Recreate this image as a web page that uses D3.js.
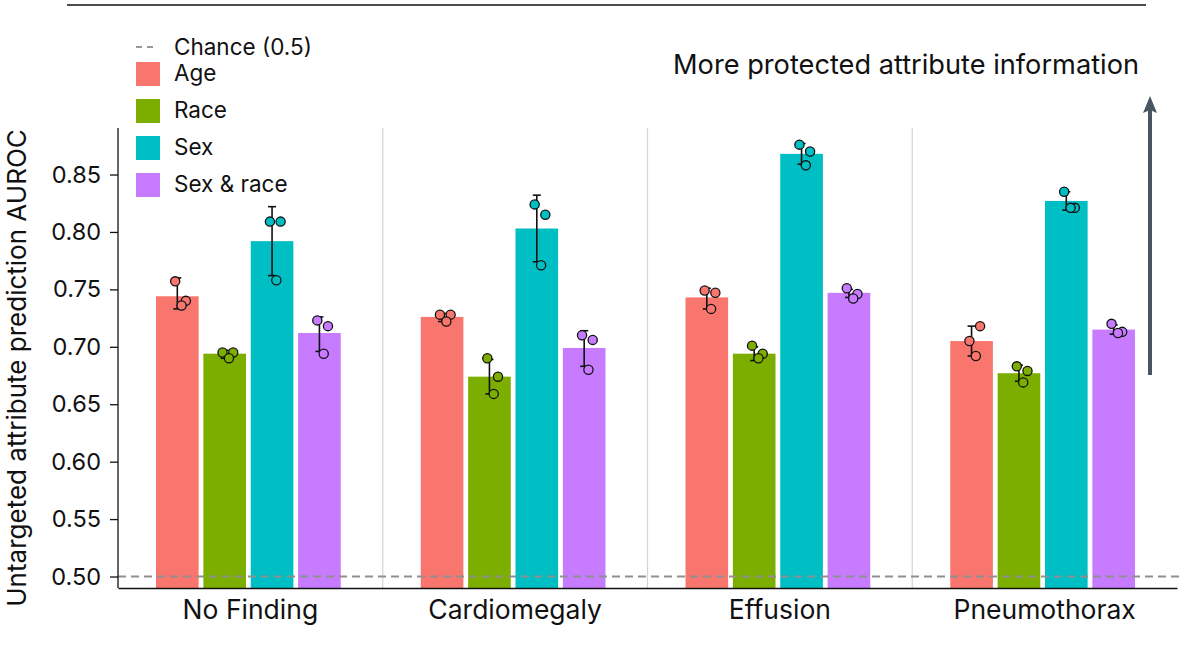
<!DOCTYPE html>
<html>
<head>
<meta charset="utf-8">
<script src="https://cdn.jsdelivr.net/npm/d3@7"></script>
<style>
  body { margin: 0; background: #fff; }
  text { font-family: "Inter", "Roboto", sans-serif; fill: #111; }
</style>
</head>
<body>
<svg id="chart" width="1191" height="645"></svg>
<script>
const findings = ['No Finding', 'Cardiomegaly', 'Effusion', 'Pneumothorax'];
const attributes = ['Age', 'Race', 'Sex', 'Sex & race'];
const attributeColors = ['#f8766d', '#7cae00', '#00bfc4', '#c77cff'];
const yTicks = [0.50, 0.55, 0.60, 0.65, 0.70, 0.75, 0.80, 0.85];

// mean AUROC per finding (rows) and attribute (columns)
const meanAuroc = [
  [0.744, 0.694, 0.792, 0.712],
  [0.726, 0.674, 0.803, 0.699],
  [0.743, 0.694, 0.868, 0.747],
  [0.705, 0.677, 0.827, 0.715]
];
// error bar ends
const errLow = [
  [0.733, 0.690, 0.762, 0.696],
  [0.722, 0.659, 0.774, 0.683],
  [0.733, 0.688, 0.859, 0.743],
  [0.692, 0.670, 0.819, 0.711]
];
const errHigh = [
  [0.760, 0.697, 0.822, 0.726],
  [0.729, 0.689, 0.832, 0.714],
  [0.751, 0.700, 0.877, 0.750],
  [0.718, 0.684, 0.835, 0.719]
];
// three runs per bar
const runs = [
  [[0.757, 0.740, 0.736], [0.695, 0.695, 0.690], [0.809, 0.809, 0.758], [0.723, 0.718, 0.694]],
  [[0.728, 0.728, 0.722], [0.690, 0.674, 0.659], [0.824, 0.815, 0.771], [0.710, 0.706, 0.680]],
  [[0.749, 0.747, 0.733], [0.701, 0.694, 0.690], [0.876, 0.870, 0.858], [0.751, 0.746, 0.742]],
  [[0.705, 0.718, 0.692], [0.683, 0.679, 0.669], [0.835, 0.821, 0.821], [0.720, 0.713, 0.712]]
];
const jitter = [-0.05, 0.2, 0.1];

const svg = d3.select('#chart');
const margin = { left: 118, right: 14, top: 128, bottom: 57 };
const width = 1191, height = 645;
const font = '"Inter", "Roboto", sans-serif';

const x = d3.scaleBand().domain(findings)
  .range([margin.left, width - margin.right]).paddingInner(0).paddingOuter(0);
const xInner = d3.scaleBand().domain(attributes)
  .range([38, x.bandwidth() - 42]).paddingInner(0.1);
const y = d3.scaleLinear().domain([0.49, 0.8905]).range([height - margin.bottom, margin.top]);

// top rule
svg.append('line').attr('x1', 67).attr('x2', 1146).attr('y1', 5).attr('y2', 5)
  .attr('stroke', '#111').attr('stroke-width', 1.5);

// group separators
svg.append('g').selectAll('line').data(findings.slice(1)).join('line')
  .attr('x1', d => x(d)).attr('x2', d => x(d))
  .attr('y1', margin.top).attr('y2', height - margin.bottom)
  .attr('stroke', '#d4d4d4').attr('stroke-width', 1.2);

const cellsFor = fi => attributes.map((a, ai) => ({ a, ai, mean: meanAuroc[fi][ai],
  lo: errLow[fi][ai], hi: errHigh[fi][ai], pts: runs[fi][ai] }));

// bars
const groups = svg.append('g').selectAll('g').data(findings).join('g')
  .attr('transform', d => `translate(${x(d)},0)`);

groups.each(function(f, fi) {
  d3.select(this).selectAll('rect').data(cellsFor(fi)).join('rect')
    .attr('x', d => xInner(d.a)).attr('width', xInner.bandwidth())
    .attr('y', d => y(d.mean)).attr('height', d => y(0.49) - y(d.mean))
    .attr('fill', d => attributeColors[d.ai]);
});

// chance line
svg.append('line')
  .attr('x1', margin.left).attr('x2', width - margin.right + 3)
  .attr('y1', y(0.5)).attr('y2', y(0.5))
  .attr('stroke', '#8f8f8f').attr('stroke-width', 2).attr('stroke-dasharray', '8,5');

groups.each(function(f, fi) {
  const g = d3.select(this);
  const cells = cellsFor(fi);
  const cx = d => xInner(d.a) + xInner.bandwidth() / 2;

  const eb = g.selectAll('g.err').data(cells).join('g').attr('class', 'err')
    .attr('stroke', '#111').attr('stroke-width', 1.6);
  eb.append('line').attr('x1', cx).attr('x2', cx)
    .attr('y1', d => y(d.lo)).attr('y2', d => y(d.hi));
  eb.append('line').attr('x1', d => cx(d) - 4).attr('x2', d => cx(d) + 4)
    .attr('y1', d => y(d.lo)).attr('y2', d => y(d.lo));
  eb.append('line').attr('x1', d => cx(d) - 4).attr('x2', d => cx(d) + 4)
    .attr('y1', d => y(d.hi)).attr('y2', d => y(d.hi));

  const dots = cells.flatMap(d => d.pts.map((v, i) => ({ v, i, d })));
  g.selectAll('circle').data(dots).join('circle')
    .attr('cx', p => cx(p.d) + jitter[p.i] * xInner.bandwidth())
    .attr('cy', p => y(p.v)).attr('r', 4.6)
    .attr('fill', p => attributeColors[p.d.ai])
    .attr('stroke', '#111').attr('stroke-width', 1.3);
});

// axes
const yAxis = svg.append('g').attr('transform', `translate(${margin.left},0)`)
  .call(d3.axisLeft(y).tickValues(yTicks).tickFormat(d3.format('.2f')).tickSize(8).tickPadding(9));
yAxis.select('.domain').attr('d', `M0,${margin.top}V${height - margin.bottom}`).attr('stroke', '#111').attr('stroke-width', 1.3);
yAxis.selectAll('.tick line').attr('stroke', '#111').attr('stroke-width', 1.3);
yAxis.selectAll('.tick text').attr('font-size', 23.5).attr('fill', '#111').style('font-family', font);

const xAxis = svg.append('g').attr('transform', `translate(0,${height - margin.bottom})`)
  .call(d3.axisBottom(x).tickSize(0).tickPadding(12));
xAxis.select('.domain').attr('stroke', '#111').attr('stroke-width', 1.3);
xAxis.selectAll('.tick text').attr('font-size', 26.5).attr('fill', '#111').style('font-family', font);

// y label
svg.append('text')
  .attr('transform', `translate(26,368) rotate(-90)`)
  .attr('text-anchor', 'middle').attr('font-size', 26)
  .text('Untargeted attribute prediction AUROC');

// legend
const legend = svg.append('g').attr('transform', 'translate(136,47)');
legend.append('line').attr('x1', 0).attr('x2', 22).attr('y1', 0).attr('y2', 0)
  .attr('stroke', '#999').attr('stroke-width', 2).attr('stroke-dasharray', '6,5');
legend.append('text').attr('x', 38).attr('y', 8).attr('font-size', 22.5).text('Chance (0.5)');
const items = legend.selectAll('g.item').data(attributes).join('g').attr('class', 'item')
  .attr('transform', (d, i) => `translate(0,${15 + i * 37})`);
items.append('rect').attr('width', 24).attr('height', 24)
  .attr('fill', (d, i) => attributeColors[i]);
items.append('text').attr('x', 38).attr('y', 19).attr('font-size', 22.5).text(d => d);

// annotation
svg.append('text').attr('x', 1139).attr('y', 74).attr('text-anchor', 'end')
  .attr('font-size', 27.2).text('More protected attribute information');
svg.append('line').attr('x1', 1150).attr('x2', 1150).attr('y1', 375).attr('y2', 108)
  .attr('stroke', '#4a5563').attr('stroke-width', 4);
svg.append('path').attr('d', 'M1150,96 L1157,113 L1150,110 L1143,113 Z').attr('fill', '#4a5563');
</script>
</body>
</html>
